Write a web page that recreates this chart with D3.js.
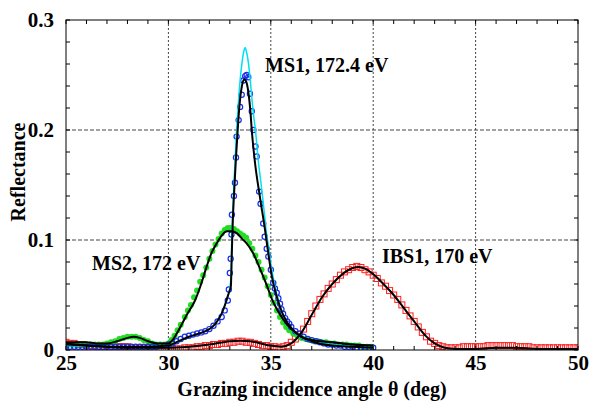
<!DOCTYPE html>
<html><head><meta charset="utf-8">
<script src="https://cdn.jsdelivr.net/npm/d3@7"></script>
<style>html,body{margin:0;padding:0;background:#fff;}svg{display:block;}</style>
</head><body>
<svg id="chart" width="589" height="401"></svg>
<script>
// ---------- data ----------
const xTicks = [25, 30, 35, 40, 45, 50];
const yTicks = [0, 0.1, 0.2, 0.3];
const yTickLabels = ["0", "0.1", "0.2", "0.3"];
const labels = ["MS1, 172.4 eV", "MS2, 172 eV", "IBS1, 170 eV"];

// MS1 measured (blue open circles)
const ms1DataX = [25.0,25.2,25.4,25.6,25.8,26.0,26.2,26.4,26.6,26.8,27.0,27.2,27.4,27.6,27.8,28.0,28.2,28.4,28.6,28.8,29.0,29.2,29.4,29.6,29.8,30.0,30.2,30.4,30.6,30.8,31.0,31.2,31.4,31.6,31.8,32.0,32.2,32.4,32.6,32.75,32.9,32.95,33.0,33.04,33.08,33.1,33.2,33.25,33.3,33.33,33.43,33.5,33.58,33.66,33.75,33.82,33.9,33.98,34.07,34.15,34.25,34.31,34.43,34.5,34.63,34.7,34.8,34.88,35.0,35.12,35.2,35.29,35.37,35.45,35.52,35.6,35.7,35.8,35.9,36.0,36.2,36.4,36.6,36.8,37.0,37.2,37.4,37.6,37.8,38.0,38.2,38.4,38.6,38.8,39.0,39.2,39.4,39.6,39.8,40.0];
const ms1DataY = [0.003,0.003,0.003,0.003,0.003,0.003,0.003,0.003,0.003,0.003,0.003,0.003,0.003,0.003,0.003,0.003,0.003,0.003,0.003,0.003,0.003,0.003,0.003,0.004,0.004,0.005,0.006,0.008,0.010,0.012,0.013,0.014,0.015,0.016,0.017,0.019,0.022,0.026,0.030,0.036,0.045,0.055,0.070,0.083,0.105,0.123,0.140,0.152,0.175,0.194,0.209,0.221,0.232,0.245,0.249,0.250,0.248,0.233,0.217,0.200,0.185,0.176,0.144,0.133,0.115,0.103,0.092,0.085,0.073,0.061,0.056,0.052,0.047,0.042,0.037,0.033,0.029,0.026,0.024,0.021,0.017,0.015,0.012,0.010,0.009,0.008,0.007,0.006,0.005,0.005,0.004,0.004,0.003,0.003,0.003,0.002,0.002,0.002,0.002,0.002];

// MS1 theory (cyan)
const ms1TheoryX = [25,27,29,30,30.5,31,31.5,32,32.3,32.6,32.8,32.95,33.05,33.1,33.2,33.3,33.4,33.5,33.6,33.7,33.75,33.8,33.9,34.0,34.07,34.15,34.25,34.4,34.5,34.6,34.7,34.77,34.9,35.0,35.2,35.4,35.6,35.8,36.0,36.5,37,38,39,40];
const ms1TheoryY = [0.004,0.003,0.003,0.004,0.008,0.012,0.015,0.019,0.024,0.033,0.043,0.052,0.065,0.105,0.150,0.190,0.220,0.245,0.262,0.273,0.275,0.272,0.262,0.245,0.230,0.215,0.200,0.170,0.155,0.139,0.122,0.109,0.093,0.079,0.058,0.043,0.032,0.025,0.019,0.011,0.008,0.005,0.003,0.002];

// MS1 fit (black)
const ms1FitX = [25,26,27,28,29,30,30.5,31,31.5,32,32.3,32.6,32.8,32.95,33.05,33.1,33.15,33.2,33.3,33.4,33.5,33.6,33.7,33.8,33.9,34.0,34.07,34.23,34.47,34.72,34.9,35.05,35.3,35.6,36.1,36.5,37,38,39,40];
const ms1FitY = [0.005,0.004,0.003,0.003,0.003,0.004,0.008,0.012,0.015,0.019,0.024,0.033,0.043,0.052,0.058,0.090,0.120,0.140,0.175,0.205,0.228,0.241,0.246,0.244,0.235,0.218,0.200,0.170,0.139,0.109,0.085,0.067,0.048,0.032,0.018,0.012,0.008,0.004,0.003,0.002];

// MS2 measured (green dots)
const ms2DataX = [25.0,25.2,25.4,25.6,25.8,26.0,26.2,26.4,26.6,26.8,27.0,27.2,27.4,27.6,27.8,28.0,28.2,28.4,28.6,28.8,29.0,29.2,29.4,29.6,29.8,30.0,30.15,30.3,30.45,30.6,30.8,30.95,31.1,31.25,31.4,31.55,31.7,31.85,32.0,32.15,32.3,32.45,32.6,32.75,32.9,33.05,33.2,33.35,33.5,33.65,33.8,33.95,34.1,34.25,34.4,34.55,34.7,34.85,35.0,35.15,35.3,35.45,35.6,35.75,35.9,36.1,36.3,36.5,36.7,36.9,37.1,37.3,37.5,37.7,37.9,38.1,38.3,38.5,38.7,38.9,39.1,39.3,39.5,39.7,39.9];
const ms2DataY = [0.005,0.005,0.005,0.005,0.005,0.005,0.005,0.005,0.005,0.005,0.006,0.007,0.008,0.010,0.011,0.012,0.012,0.012,0.011,0.009,0.008,0.006,0.005,0.005,0.005,0.006,0.009,0.013,0.018,0.023,0.030,0.036,0.041,0.048,0.054,0.062,0.068,0.075,0.083,0.090,0.096,0.101,0.106,0.109,0.111,0.111,0.110,0.108,0.106,0.104,0.102,0.097,0.092,0.086,0.080,0.073,0.066,0.058,0.050,0.043,0.036,0.030,0.025,0.021,0.018,0.015,0.013,0.011,0.010,0.009,0.008,0.008,0.007,0.007,0.006,0.006,0.005,0.005,0.005,0.004,0.004,0.004,0.003,0.003,0.003];

// MS2 fit (black)
const ms2FitX = [25,26,26.5,27,27.5,28,28.3,28.6,29,29.5,30,30.2,30.5,30.9,31.3,31.6,31.87,32.1,32.36,32.6,32.85,33.1,33.35,33.6,33.82,34.14,34.47,34.8,35.04,35.3,35.6,36,36.5,37,38,39,40];
const ms2FitY = [0.007,0.007,0.006,0.006,0.008,0.011,0.012,0.011,0.008,0.006,0.006,0.009,0.018,0.032,0.045,0.060,0.076,0.088,0.097,0.104,0.108,0.108,0.106,0.101,0.097,0.088,0.074,0.059,0.047,0.037,0.028,0.019,0.012,0.009,0.007,0.005,0.004];

// IBS1 measured (red open squares)
const ibsDataX = [25.0,25.2,25.4,25.6,25.8,26.0,26.2,26.4,26.6,26.8,27.0,27.2,27.4,27.6,27.8,28.0,28.2,28.4,28.6,28.8,29.0,29.2,29.4,29.6,29.8,30.0,30.2,30.4,30.6,30.8,31.0,31.2,31.4,31.6,31.8,32.0,32.2,32.4,32.6,32.8,33.0,33.2,33.4,33.6,33.8,34.0,34.2,34.4,34.6,34.8,35.0,35.2,35.4,35.6,35.8,36.0,36.2,36.4,36.6,36.8,37.0,37.2,37.4,37.6,37.8,38.0,38.2,38.4,38.6,38.8,39.0,39.2,39.4,39.6,39.8,40.0,40.2,40.4,40.6,40.8,41.0,41.2,41.4,41.6,41.8,42.0,42.2,42.4,42.6,42.8,43.0,43.2,43.4,43.6,43.8,44.0,44.2,44.4,44.6,44.8,45.0,45.2,45.4,45.6,45.8,46.0,46.2,46.4,46.6,46.8,47.0,47.2,47.4,47.6,47.8,48.0,48.2,48.4,48.6,48.8,49.0,49.2,49.4,49.6,49.8,50.0];
const ibsDataY = [0.007,0.006,0.006,0.005,0.005,0.004,0.004,0.004,0.003,0.003,0.003,0.003,0.003,0.003,0.003,0.003,0.002,0.002,0.002,0.002,0.002,0.002,0.002,0.001,0.001,0.001,0.001,0.001,0.001,0.002,0.002,0.002,0.003,0.003,0.004,0.004,0.005,0.005,0.006,0.006,0.007,0.007,0.008,0.008,0.007,0.007,0.006,0.005,0.004,0.004,0.003,0.003,0.002,0.003,0.004,0.007,0.010,0.014,0.019,0.026,0.033,0.040,0.046,0.051,0.056,0.060,0.064,0.068,0.071,0.073,0.075,0.076,0.075,0.073,0.071,0.068,0.065,0.061,0.058,0.054,0.050,0.046,0.041,0.036,0.031,0.026,0.021,0.016,0.012,0.008,0.006,0.004,0.003,0.002,0.002,0.002,0.002,0.003,0.003,0.003,0.003,0.003,0.003,0.004,0.004,0.004,0.004,0.004,0.004,0.004,0.003,0.003,0.003,0.003,0.002,0.002,0.002,0.002,0.002,0.002,0.002,0.002,0.002,0.002,0.002,0.002];

// IBS1 fit (black)
const ibsFitX = [25,26,27,28,29,30,31,32,33,33.5,34,34.5,35,35.5,36,36.5,37,37.5,38,38.5,39,39.3,39.6,40,40.5,41,41.5,42,42.5,43,43.5,44,45,46,46.5,47,48,49,50];
const ibsFitY = [0.006,0.004,0.003,0.002,0.002,0.002,0.003,0.005,0.008,0.0085,0.008,0.006,0.004,0.003,0.006,0.016,0.032,0.048,0.060,0.069,0.0745,0.0755,0.074,0.069,0.060,0.050,0.038,0.026,0.014,0.006,0.002,0.001,0.001,0.002,0.002,0.002,0.001,0.001,0.001];

// ---------- layout ----------
const svg = d3.select("#chart");
const L = 66, R = 578, T = 20, B = 350;
const x = d3.scaleLinear().domain([25, 50]).range([L, R]);
const y = d3.scaleLinear().domain([0, 0.3]).range([B, T]);
const font = "'Liberation Serif','Times New Roman',serif";

// gridlines
svg.append("g").selectAll("line").data([30,35,40,45]).join("line")
  .attr("x1", d => x(d)).attr("x2", d => x(d)).attr("y1", T).attr("y2", B)
  .attr("stroke", "#444").attr("stroke-width", 1).attr("stroke-dasharray", "2,2");
svg.append("g").selectAll("line").data([0.1, 0.2]).join("line")
  .attr("x1", L).attr("x2", R).attr("y1", d => y(d)).attr("y2", d => y(d))
  .attr("stroke", "#444").attr("stroke-width", 1).attr("stroke-dasharray", "4,2");

// clip
svg.append("clipPath").attr("id", "clip").append("rect")
  .attr("x", L).attr("y", T - 5).attr("width", R - L).attr("height", B - T + 5);
const plot = svg.append("g").attr("clip-path", "url(#clip)");

const line = d3.line().x(d => x(d[0])).y(d => y(d[1])).curve(d3.curveMonotoneX);
const zip = (a, b) => a.map((v, i) => [v, b[i]]);

// red squares
plot.append("g").selectAll("rect").data(zip(ibsDataX, ibsDataY)).join("rect")
  .attr("x", d => x(d[0]) - 3).attr("y", d => y(d[1]) - 3)
  .attr("width", 6).attr("height", 6)
  .attr("fill", "none").attr("stroke", "#ff2020").attr("stroke-width", 1);
// green dots
plot.append("g").selectAll("circle").data(zip(ms2DataX, ms2DataY)).join("circle")
  .attr("cx", d => x(d[0])).attr("cy", d => y(d[1])).attr("r", 3)
  .attr("fill", "#22dd22");
// blue circles
plot.append("g").selectAll("circle").data(zip(ms1DataX, ms1DataY)).join("circle")
  .attr("cx", d => x(d[0])).attr("cy", d => y(d[1])).attr("r", 2.6)
  .attr("fill", "none").attr("stroke", "#1a2ee8").attr("stroke-width", 1.2);
// cyan theory
plot.append("path").datum(zip(ms1TheoryX, ms1TheoryY)).attr("d", line)
  .attr("fill", "none").attr("stroke", "#00e0f0").attr("stroke-width", 1.5);
// black fits
[[ms1FitX, ms1FitY], [ms2FitX, ms2FitY], [ibsFitX, ibsFitY]].forEach(([a, b]) => {
  plot.append("path").datum(zip(a, b)).attr("d", line)
    .attr("fill", "none").attr("stroke", "#000").attr("stroke-width", 2);
});

// frame
svg.append("rect").attr("x", L).attr("y", T).attr("width", R - L).attr("height", B - T)
  .attr("fill", "none").attr("stroke", "#000").attr("stroke-width", 1);

// axes with inward ticks
const xMinor = d3.range(25, 51, 1);
const yMinor = d3.range(0, 0.3001, 0.02);
const tk = svg.append("g").attr("stroke", "#000").attr("stroke-width", 1);
xMinor.forEach(v => {
  tk.append("line").attr("x1", x(v)).attr("x2", x(v)).attr("y1", B).attr("y2", B - 4);
  tk.append("line").attr("x1", x(v)).attr("x2", x(v)).attr("y1", T).attr("y2", T + 4);
});
yMinor.forEach(v => {
  tk.append("line").attr("x1", L).attr("x2", L + 4).attr("y1", y(v)).attr("y2", y(v));
  tk.append("line").attr("x1", R).attr("x2", R - 4).attr("y1", y(v)).attr("y2", y(v));
});

// tick labels via axes (tick lines hidden)
const xAxis = svg.append("g").attr("transform", `translate(0,${B})`)
  .call(d3.axisBottom(x).tickValues(xTicks).tickSize(0).tickPadding(5).tickFormat(d3.format("d")));
const yAxis = svg.append("g").attr("transform", `translate(${L},0)`)
  .call(d3.axisLeft(y).tickValues(yTicks).tickSize(0).tickPadding(12).tickFormat((d, i) => yTickLabels[i]));
[xAxis, yAxis].forEach(a => {
  a.select(".domain").remove();
  a.selectAll("text").attr("font-family", font).attr("font-weight", "bold").attr("font-size", 21).attr("fill", "#000");
});

// axis titles
svg.append("text").attr("x", (L + R) / 2 - 10).attr("y", 396).attr("text-anchor", "middle")
  .attr("font-family", font).attr("font-weight", "bold").attr("font-size", 20)
  .text("Grazing incidence angle θ (deg)");
svg.append("text").attr("transform", "translate(25,172) rotate(-90)").attr("text-anchor", "middle")
  .attr("font-family", font).attr("font-weight", "bold").attr("font-size", 20)
  .text("Reflectance");

// annotations
const ann = [[labels[0], 265, 72], [labels[1], 92, 270], [labels[2], 382, 263]];
svg.append("g").selectAll("text").data(ann).join("text")
  .attr("x", d => d[1]).attr("y", d => d[2])
  .attr("font-family", font).attr("font-weight", "bold").attr("font-size", 20)
  .text(d => d[0]);
</script>
</body></html>
